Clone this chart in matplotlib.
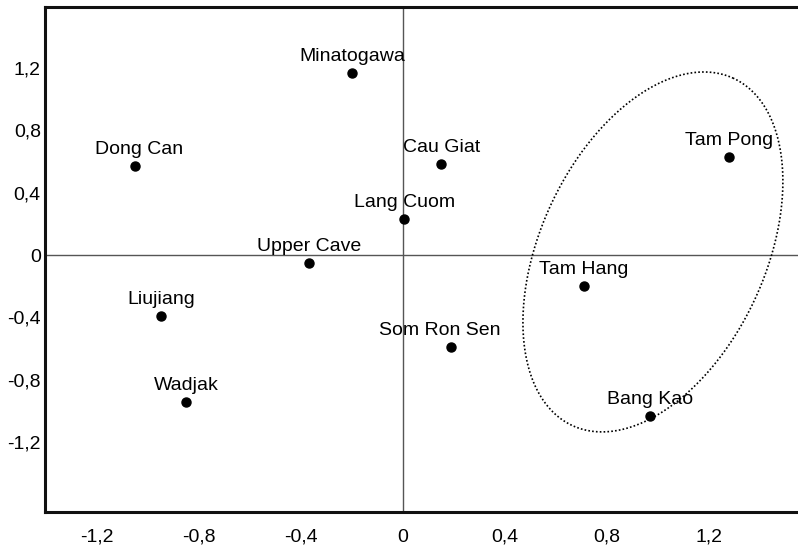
import numpy as np
import matplotlib
matplotlib.use("Agg")
import matplotlib.pyplot as plt

# ---- data ----
sites = ["Minatogawa", "Dong Can", "Cau Giat", "Lang Cuom", "Upper Cave",
         "Tam Pong", "Tam Hang", "Liujiang", "Som Ron Sen", "Wadjak", "Bang Kao"]
x_vals = [-0.20, -1.05, 0.15, 0.005, -0.37, 1.28, 0.71, -0.95, 0.19, -0.85, 0.97]
y_vals = [1.165, 0.57, 0.585, 0.23, -0.05, 0.63, -0.20, -0.39, -0.59, -0.94, -1.03]

ticks = [-1.2, -0.8, -0.4, 0, 0.4, 0.8, 1.2]
tick_labels = ["-1,2", "-0,8", "-0,4", "0", "0,4", "0,8", "1,2"]

# grouping ellipse (centre, and the two conjugate half-axis vectors, data units)
ell_center = (0.98, 0.02)
ell_u = (0.316, 1.113)
ell_v = (-0.400, 0.303)

# ---- style ----
plt.rcParams['font.family'] = ["Liberation Sans", "DejaVu Sans"]
fsize = 14
label_dx = {"Som Ron Sen": -12, "Dong Can": 4}  # pixel offsets for labels

fig = plt.figure(figsize=(7.98, 5.49), dpi=100)
ax = fig.add_axes([45 / 798, 37 / 549, 1 - 45 / 798, (512 - 7) / 549])

ax.set_xlim(-1.404, 1.549)
ax.set_ylim(-1.647, 1.590)

ax.axhline(0, color="#555555", lw=1.0, zorder=1)
ax.axvline(0, color="#555555", lw=1.0, zorder=1)

ax.plot(x_vals, y_vals, "o", color="black", markersize=6.5, zorder=3)

for name, xv, yv in zip(sites, x_vals, y_vals):
    dx = label_dx.get(name, 0) * 0.72
    ax.annotate(name, (xv, yv), xytext=(dx, 8.5), textcoords="offset points",
                ha="center", va="baseline", fontsize=fsize, color="black", zorder=4)

t = np.linspace(0, 2 * np.pi, 400)
ex = ell_center[0] + ell_u[0] * np.cos(t) + ell_v[0] * np.sin(t)
ey = ell_center[1] + ell_u[1] * np.cos(t) + ell_v[1] * np.sin(t)
ax.plot(ex, ey, color="black", lw=1.2, linestyle=(0, (1, 1.3)), zorder=2)

ax.set_xticks(ticks)
ax.set_xticklabels(tick_labels)
ax.set_yticks(ticks)
ax.set_yticklabels(tick_labels)
ax.tick_params(axis="both", length=0, labelsize=fsize)
ax.tick_params(axis="x", pad=12)
ax.tick_params(axis="y", pad=3)

for s in ["left", "bottom", "top"]:
    ax.spines[s].set_linewidth(2.2)
    ax.spines[s].set_color("#111111")
ax.spines["right"].set_visible(False)

fig.savefig("out.png", dpi=100)
